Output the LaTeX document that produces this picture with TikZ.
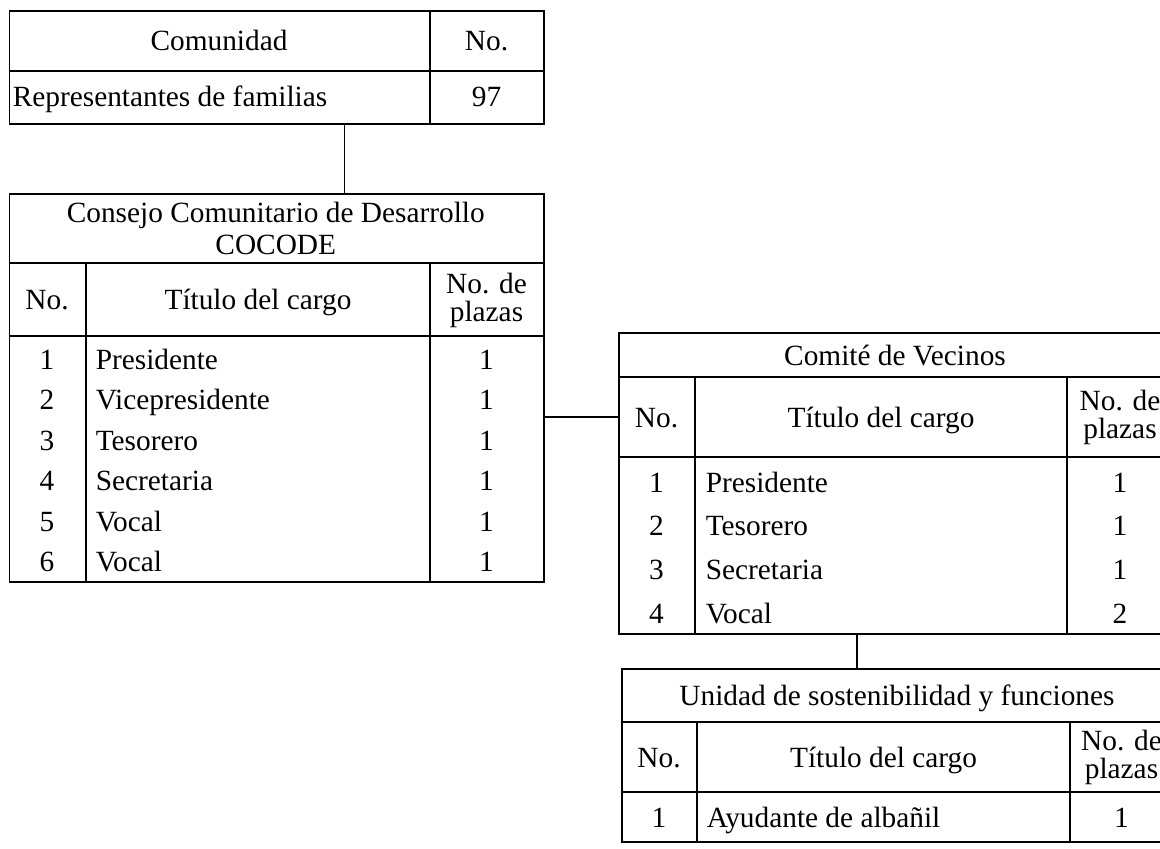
\documentclass[tikz,border=0pt]{standalone}
\usepackage{fontspec}
\setmainfont{Liberation Serif}
\begin{document}
\begin{tikzpicture}[x=0.75pt,y=-0.75pt,line width=1.2pt,
  tbl/.style={draw,rectangle,inner sep=0pt,anchor=north west},
  txt/.style={inner sep=0pt,font=\fontsize{22}{24}\selectfont},
  lt/.style={txt,anchor=base west},
  ct/.style={txt,anchor=base},
  two/.style={inner sep=0pt,align=center,font=\fontsize{22}{21}\selectfont},
  ttl/.style={inner sep=0pt,align=center,font=\fontsize{22}{23.5}\selectfont}]
\clip (0,0) rectangle (1160,849);
\fill[white] (0,0) rectangle (1160,849);
% ---------- Comunidad ----------
\node[tbl,minimum width=400.875pt,minimum height=84.75pt] (top) at (8.5,10) {};
\draw (8.5,71) -- (543,71);
\draw (430,10) -- (430,123);
\node[ct] (tA) at (219,50.5) {Comunidad};
\node[ct] (tB) at (486.5,50.5) {No.};
\node[lt] (tC) at (12,107) {Representantes de familias};
\node[ct] (tD) at (486.5,107) {97};
% ---------- COCODE ----------
\node[tbl,minimum width=400.875pt,minimum height=291pt] (cocode) at (8.5,193) {};
\draw (8.5,263) -- (543,263);
\draw (8.5,336) -- (543,336);
\draw (86,263) -- (86,581);
\draw (430,263) -- (430,581);
\node[ttl] (cT) at (275.75,228.5) {Consejo Comunitario de Desarrollo\\COCODE};
\node[ct] (cH1) at (47,309.5) {No.};
\node[ct] (cH2) at (258,309.5) {Título del cargo};
\node[two] (cH3) at (486.5,300) {No. de\\plazas};
\foreach \i/\t [count=\k from 0] in {1/Presidente,2/Vicepresidente,3/Tesorero,4/Secretaria,5/Vocal,6/Vocal}{
  \node[ct] (cn\i) at (47,369+40.5*\k) {\i};
  \node[lt] (ct\i) at (95,369+40.5*\k) {\t};
  \node[ct] (cp\i) at (486.5,369+40.5*\k) {1};
}
% ---------- Comite ----------
\node[tbl,minimum width=416.25pt,minimum height=225.75pt] (comite) at (618,332) {};
\draw (618,377) -- (1173,377);
\draw (618,457) -- (1173,457);
\draw (695,377) -- (695,633);
\draw (1067,377) -- (1067,633);
\node[ct] (vT) at (895,365) {Comité de Vecinos};
\node[ct] (vH1) at (656.5,427) {No.};
\node[ct] (vH2) at (881,427) {Título del cargo};
\node[two] (vH3) at (1120,417) {No. de\\plazas};
\foreach \i/\t/\p [count=\k from 0] in {1/Presidente/1,2/Tesorero/1,3/Secretaria/1,4/Vocal/2}{
  \node[ct] (vn\i) at (656.5,492+43.7*\k) {\i};
  \node[lt] (vt\i) at (705,492+43.7*\k) {\t};
  \node[ct] (vp\i) at (1120,492+43.7*\k) {\p};
}
% ---------- Unidad ----------
\node[tbl,minimum width=414pt,minimum height=129.75pt] (unit) at (621,668) {};
\draw (621,722) -- (1173,722);
\draw (621,792) -- (1173,792);
\draw (697,722) -- (697,841);
\draw (1070,722) -- (1070,841);
\node[ct] (uT) at (897,705) {Unidad de sostenibilidad y funciones};
\node[ct] (uH1) at (659,767) {No.};
\node[ct] (uH2) at (883.5,767) {Título del cargo};
\node[two] (uH3) at (1121.5,757) {No. de\\plazas};
\node[ct] (un1) at (659,827) {1};
\node[lt] (ut1) at (706,827) {Ayudante de albañil};
\node[ct] (up1) at (1121.5,827) {1};
% ---------- connectors ----------
\coordinate (k1) at (344.6,0);
\coordinate (k2) at (0,417);
\coordinate (k3) at (857,0);
\draw (top.south -| k1) -- (cocode.north -| k1);
\draw (cocode.east |- k2) -- (comite.west |- k2);
\draw (comite.south -| k3) -- (unit.north -| k3);
\end{tikzpicture}
\end{document}
